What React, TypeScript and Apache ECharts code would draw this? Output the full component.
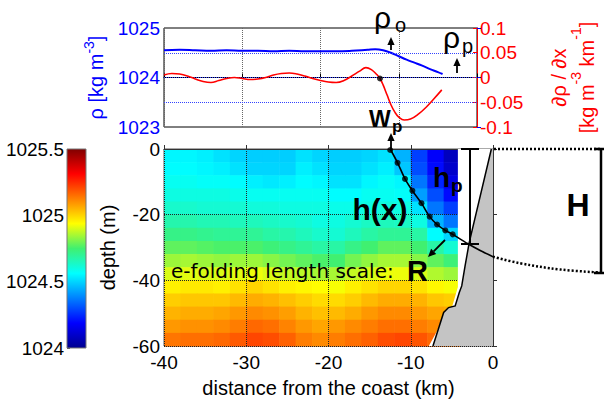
import React, { useEffect, useRef } from 'react';
import * as echarts from 'echarts';

const FONT = '"Liberation Sans", Arial, Helvetica, sans-serif';
const FONT2 = '"DejaVu Sans", Verdana, sans-serif';

// ---- top panel: cross-shore density and its gradient ----
const rhoDist = [-40, -38, -36, -34, -32, -30, -28, -26, -24, -22, -20, -18, -16, -14, -13, -12, -11, -10, -9, -8, -7, -6, -5, -4.4];
const rhoValues = [1024.55, 1024.56, 1024.55, 1024.54, 1024.55, 1024.54, 1024.54, 1024.53, 1024.54, 1024.53, 1024.53, 1024.53, 1024.54, 1024.56, 1024.57, 1024.55, 1024.5, 1024.43, 1024.36, 1024.3, 1024.24, 1024.17, 1024.11, 1024.07];
const gradDist = [-40, -39, -38, -37, -36, -35, -34, -33, -32, -31, -30, -29, -28, -27, -26, -25, -24, -23, -22, -21, -20, -19, -18, -17, -16, -15, -14.2, -13.5, -12.8, -12.4, -12, -11.5, -11, -10.5, -10, -9.3, -8.5, -7.5, -6.5, -5.5, -4.5];
const gradValues = [0.005, 0.008, 0.007, 0.003, -0.003, -0.008, -0.01, -0.006, -0.002, 0.0, -0.002, -0.004, -0.003, 0.0, 0.005, 0.008, 0.009, 0.007, 0.003, -0.002, -0.006, -0.009, -0.01, -0.006, 0.003, 0.013, 0.02, 0.016, 0.006, -0.002, -0.015, -0.035, -0.055, -0.07, -0.08, -0.086, -0.084, -0.074, -0.06, -0.043, -0.025];
const frontPoint = [-12.4, -0.002];
const rhoGuides = [1023.5, 1024, 1024.5];

// ---- bottom panel: density section ----
const distCenters = [-39, -37, -35, -33, -31, -29, -27, -25, -23, -21, -19, -17, -15, -13, -11, -9, -7, -5];
const depthCenters = [-2, -6, -10, -14, -18, -22, -26, -30, -34, -38, -42, -46, -50, -54, -58];
const densityRows = [
  [1024.55, 1024.55, 1024.54, 1024.52, 1024.50, 1024.49, 1024.49, 1024.49, 1024.52, 1024.50, 1024.49, 1024.49, 1024.50, 1024.52, 1024.45, 1024.28, 1024.18, 1024.08],
  [1024.56, 1024.56, 1024.55, 1024.54, 1024.52, 1024.50, 1024.50, 1024.50, 1024.54, 1024.52, 1024.50, 1024.50, 1024.52, 1024.54, 1024.48, 1024.30, 1024.20, 1024.10],
  [1024.58, 1024.58, 1024.57, 1024.57, 1024.56, 1024.54, 1024.53, 1024.54, 1024.56, 1024.55, 1024.52, 1024.52, 1024.55, 1024.57, 1024.55, 1024.36, 1024.24, 1024.14],
  [1024.60, 1024.60, 1024.60, 1024.60, 1024.59, 1024.58, 1024.58, 1024.58, 1024.58, 1024.58, 1024.56, 1024.56, 1024.58, 1024.58, 1024.57, 1024.42, 1024.30, 1024.20],
  [1024.63, 1024.63, 1024.62, 1024.62, 1024.62, 1024.61, 1024.61, 1024.60, 1024.60, 1024.60, 1024.59, 1024.59, 1024.60, 1024.61, 1024.60, 1024.52, 1024.36, 1024.28],
  [1024.67, 1024.67, 1024.66, 1024.66, 1024.65, 1024.65, 1024.64, 1024.63, 1024.62, 1024.60, 1024.60, 1024.62, 1024.64, 1024.65, 1024.64, 1024.60, 1024.45, 1024.36],
  [1024.72, 1024.72, 1024.71, 1024.70, 1024.70, 1024.70, 1024.68, 1024.67, 1024.65, 1024.63, 1024.62, 1024.65, 1024.68, 1024.70, 1024.70, 1024.68, 1024.56, 1024.50],
  [1024.78, 1024.78, 1024.77, 1024.76, 1024.76, 1024.76, 1024.74, 1024.72, 1024.70, 1024.68, 1024.68, 1024.72, 1024.75, 1024.78, 1024.78, 1024.75, 1024.68, 1024.62],
  [1024.84, 1024.85, 1024.84, 1024.83, 1024.84, 1024.84, 1024.82, 1024.80, 1024.78, 1024.76, 1024.75, 1024.80, 1024.83, 1024.85, 1024.85, 1024.82, 1024.78, 1024.74],
  [1024.90, 1024.91, 1024.90, 1024.90, 1024.91, 1024.92, 1024.90, 1024.88, 1024.87, 1024.85, 1024.85, 1024.88, 1024.90, 1024.92, 1024.92, 1024.90, 1024.86, 1024.84],
  [1024.96, 1024.97, 1024.97, 1024.96, 1024.98, 1025.00, 1024.98, 1024.96, 1024.95, 1024.94, 1024.93, 1024.96, 1024.98, 1025.00, 1025.00, 1024.98, 1024.95, 1024.93],
  [1025.01, 1025.02, 1025.02, 1025.02, 1025.04, 1025.06, 1025.05, 1025.03, 1025.01, 1024.99, 1024.99, 1025.01, 1025.04, 1025.06, 1025.06, 1025.05, 1025.02, 1025.01],
  [1025.05, 1025.06, 1025.06, 1025.07, 1025.09, 1025.11, 1025.10, 1025.08, 1025.05, 1025.03, 1025.04, 1025.06, 1025.09, 1025.11, 1025.11, 1025.09, 1025.07, 1025.06],
  [1025.09, 1025.10, 1025.10, 1025.11, 1025.13, 1025.16, 1025.15, 1025.12, 1025.09, 1025.07, 1025.09, 1025.11, 1025.13, 1025.15, 1025.15, 1025.13, 1025.11, 1025.09],
  [1025.14, 1025.15, 1025.15, 1025.16, 1025.18, 1025.21, 1025.20, 1025.17, 1025.13, 1025.11, 1025.13, 1025.15, 1025.17, 1025.20, 1025.21, 1025.19, 1025.16, 1025.14],
];
const cellHalfWidth = 1; // km
const cellHalfHeight = 2; // m

// plume interface h(x)
const hCurve = [[-12.5, 0], [-11.6, -4.2], [-10.7, -9.1], [-9.8, -12.7], [-8.7, -16.5], [-7.7, -20.6], [-6.8, -23.0], [-5.8, -24.8], [-4.9, -26.0], [-3.1, -28.8], [-1.5, -31.0], [0, -32.8]];
const hExtension = [[0, -32.8], [3.3, -34.8], [8.2, -36.7], [13, -37.6]];
const hDots = [[-12.5, -0.3], [-11.6, -4.2], [-10.7, -9.1], [-9.8, -12.7], [-8.7, -16.5], [-7.7, -20.6], [-6.8, -23.0], [-5.8, -24.8], [-4.9, -26.0]];
// bathymetry / data edge
const coastline = [[-0.2, 0], [-2.9, -28.6], [-3.4, -35.7], [-3.8, -41.7], [-4.1, -43.7], [-4.6, -47.8], [-5.4, -48.3], [-6.0, -49.8], [-7.3, -60]];
const fieldEdge = [[-4.27, 0], [-4.27, -42], [-4.4, -43.2], [-5.0, -48.3], [-6.0, -50.3], [-6.8, -55.4], [-7.8, -60]];

const jet = ['#000090', '#0000ff', '#0080ff', '#00ffff', '#40f070', '#ffff00', '#ff8000', '#ff0000', '#800000'];
const colorbarRange = [1024, 1025.5];

function arrow(x1: number, y1: number, x2: number, y2: number, head = 8, width = 1.8): any[] {
  const dx = x2 - x1, dy = y2 - y1;
  const len = Math.hypot(dx, dy);
  const ux = dx / len, uy = dy / len;
  const px = -uy, py = ux;
  const bx = x2 - ux * head, by = y2 - uy * head;
  const w = head * 0.45;
  return [
    { type: 'line', z: 100, shape: { x1, y1, x2: bx, y2: by }, style: { stroke: '#000', lineWidth: width } },
    { type: 'polygon', z: 100, shape: { points: [[x2, y2], [bx + px * w, by + py * w], [bx - px * w, by - py * w]] }, style: { fill: '#000' } },
  ];
}

function txt(text: string, x: number, y: number, size: number, bold = false, align = 'left', family = FONT): any {
  return {
    type: 'text', z: 100, x, y,
    style: { text, font: `${bold ? 'bold ' : ''}${size}px ${family}`, fill: '#000', align, verticalAlign: 'middle' },
  };
}

function bar(x: number, y1: number, y2: number, capL: number, capR: number, w: number): any[] {
  return [
    { type: 'line', z: 100, shape: { x1: x, y1, x2: x, y2 }, style: { stroke: '#000', lineWidth: w } },
    { type: 'line', z: 100, shape: { x1: capL, y1, x2: capR, y2: y1 }, style: { stroke: '#000', lineWidth: w } },
    { type: 'line', z: 100, shape: { x1: capL, y1: y2, x2: capR, y2 }, style: { stroke: '#000', lineWidth: w } },
  ];
}

const plain = (v: number) => String(Math.round(v * 1000) / 1000);

function supRich(color: string, lh: number) {
  return {
    n: { fontFamily: FONT, fontSize: 20, color, lineHeight: lh, verticalAlign: 'bottom' },
    s: { fontFamily: FONT, fontSize: 14, color, lineHeight: lh, verticalAlign: 'top' },
  };
}

export default function App() {
  const ref = useRef<HTMLDivElement>(null);
  useEffect(() => {
    if (!ref.current) return;
    const chart = echarts.init(ref.current, undefined, { renderer: 'svg' });
    const fieldData: number[][] = [];
    depthCenters.forEach((d, i) => distCenters.forEach((x, j) => fieldData.push([x, d, densityRows[i][j]])));
    const tickFont = { fontFamily: FONT, fontSize: 19 };
    const nameFont = { fontFamily: FONT, fontSize: 20 };

    const option: any = {
      animation: false,
      backgroundColor: '#fff',
      grid: [
        { left: 164, top: 28, width: 328, height: 99, show: true, borderColor: '#000', borderWidth: 1, backgroundColor: 'transparent' },
        { left: 164, top: 149, width: 329, height: 198, show: true, borderColor: '#555', borderWidth: 1, backgroundColor: 'transparent' },
        { left: 67, top: 149, width: 19, height: 199, show: false },
      ],
      xAxis: [
        { gridIndex: 0, type: 'value', min: -40, max: 0, interval: 10, axisLabel: { show: false },
          axisLine: { lineStyle: { color: '#000' } }, axisTick: { inside: true, length: 4, lineStyle: { color: '#000' } },
          splitLine: { show: true, lineStyle: { type: 'dotted', color: '#666' } } },
        { gridIndex: 1, type: 'value', min: -40, max: 0, interval: 10, z: 3,
          axisLabel: { ...tickFont, color: '#000', margin: 7, formatter: plain },
          axisLine: { lineStyle: { color: '#333' } }, axisTick: { inside: true, length: 4, lineStyle: { color: '#333' } },
          splitLine: { show: true, lineStyle: { type: 'dotted', color: '#222' } },
          name: 'distance from the coast (km)', nameLocation: 'middle', nameGap: 32,
          nameTextStyle: { ...nameFont, color: '#000' } },
        { gridIndex: 2, type: 'value', min: 0, max: 1, show: false },
      ],
      yAxis: [
        { gridIndex: 0, type: 'value', min: 1023, max: 1025, interval: 1, position: 'left',
          name: '{n|ρ [kg m}{s|-3}{n|]}', nameLocation: 'middle', nameGap: 58, nameRotate: 90,
          nameTextStyle: { ...nameFont, color: '#0000ff', rich: supRich('#0000ff', 24) },
          axisLine: { show: true, lineStyle: { color: '#0000ff' } },
          axisLabel: { ...tickFont, color: '#0000ff', margin: 4, formatter: plain },
          axisTick: { inside: true, length: 4, lineStyle: { color: '#0000ff' } }, splitLine: { show: false } },
        { gridIndex: 0, type: 'value', min: -0.1, max: 0.1, interval: 0.05, position: 'right',
          name: '{n|∂ρ / ∂x}\n{n|[kg m}{s|-3}{n| km}{s|-1}{n|]}', nameLocation: 'middle', nameGap: 64, nameRotate: 90,
          nameTextStyle: { ...nameFont, color: '#ff0000', rich: supRich('#ff0000', 28) },
          axisLine: { show: true, lineStyle: { color: '#ff0000' } },
          axisLabel: { ...tickFont, color: '#ff0000', margin: 3, formatter: plain },
          axisTick: { inside: true, length: 4, lineStyle: { color: '#ff0000' } }, splitLine: { show: false } },
        { gridIndex: 1, type: 'value', min: -60, max: 0, interval: 20, z: 3,
          name: 'depth (m)', nameLocation: 'middle', nameGap: 46, nameRotate: 90,
          nameTextStyle: { ...nameFont, color: '#000' },
          axisLine: { show: true, lineStyle: { color: '#333' } },
          axisLabel: { ...tickFont, color: '#000', margin: 4, formatter: plain },
          axisTick: { inside: true, length: 4, lineStyle: { color: '#333' } },
          splitLine: { show: true, lineStyle: { type: 'dotted', color: '#222' } } },
        { gridIndex: 2, type: 'value', min: colorbarRange[0], max: colorbarRange[1], interval: 0.5,
          axisLine: { show: false }, axisTick: { inside: true, length: 3, lineStyle: { color: '#555' } },
          axisLabel: { ...tickFont, color: '#000', margin: 3, formatter: plain }, splitLine: { show: false } },
      ],
      visualMap: [
        { type: 'continuous', show: false, seriesIndex: 3, dimension: 2, min: colorbarRange[0], max: colorbarRange[1], inRange: { color: jet } },
      ],
      series: [
        { name: 'rho', type: 'line', xAxisIndex: 0, yAxisIndex: 0, data: rhoDist.map((x, i) => [x, rhoValues[i]]),
          showSymbol: false, smooth: 0.4, lineStyle: { color: '#0000ff', width: 2 }, z: 4,
          markLine: { silent: true, symbol: 'none', label: { show: false },
            lineStyle: { type: 'dotted', color: '#3344ff', width: 1 },
            data: rhoGuides.map((v) => ({ yAxis: v })) } },
        { name: 'drho/dx', type: 'line', xAxisIndex: 0, yAxisIndex: 1, data: gradDist.map((x, i) => [x, gradValues[i]]),
          showSymbol: false, smooth: 0.4, lineStyle: { color: '#ff0000', width: 1.6 }, z: 5 },
        { name: 'front', type: 'scatter', xAxisIndex: 0, yAxisIndex: 1, data: [frontPoint], symbolSize: 6,
          itemStyle: { color: '#000' }, z: 6 },
        { name: 'density', type: 'custom', xAxisIndex: 1, yAxisIndex: 2, data: fieldData, z: 1,
          encode: { x: 0, y: 1 },
          renderItem: (_p: any, api: any) => {
            const x = api.value(0), y = api.value(1);
            const a = api.coord([x - cellHalfWidth, y + cellHalfHeight]);
            const b = api.coord([x + cellHalfWidth, y - cellHalfHeight]);
            return { type: 'rect', shape: { x: a[0], y: a[1], width: b[0] - a[0] + 0.6, height: b[1] - a[1] + 0.6 },
              style: { fill: api.visual('color') } };
          } },
        { name: 'coast', type: 'custom', xAxisIndex: 1, yAxisIndex: 2, data: [[0, 0]], z: 4, silent: true,
          renderItem: (_p: any, api: any) => {
            const mask = [...fieldEdge, [0, -60], [0, 0]].map((p) => api.coord(p));
            const land = [[0, 0], ...coastline, [0, -60]].map((p) => api.coord(p));
            const shore = coastline.map((p) => api.coord(p));
            return { type: 'group', children: [
              { type: 'polygon', shape: { points: mask }, style: { fill: '#ffffff' } },
              { type: 'polygon', shape: { points: land }, style: { fill: '#c4c4c4' } },
              { type: 'polyline', shape: { points: shore }, style: { stroke: '#000', lineWidth: 1.5, fill: null } },
            ] };
          } },
        { name: 'h(x)', type: 'line', xAxisIndex: 1, yAxisIndex: 2, data: hCurve, clip: false, showSymbol: false,
          smooth: 0.3, lineStyle: { color: '#000', width: 1.6 }, z: 6 },
        { name: 'h extension', type: 'custom', xAxisIndex: 1, yAxisIndex: 2, data: [[0, 0]], z: 6, clip: false, silent: true,
          renderItem: (_p: any, api: any) => ({
            type: 'polyline', shape: { points: hExtension.map((p) => api.coord(p)), smooth: 0.4 },
            style: { stroke: '#000', lineWidth: 2.5, lineDash: [2, 2], fill: null },
          }) },
        { name: 'h dots', type: 'scatter', xAxisIndex: 1, yAxisIndex: 2, data: hDots, symbolSize: 6,
          itemStyle: { color: '#000' }, z: 7 },
        { name: 'colorbar', type: 'custom', xAxisIndex: 2, yAxisIndex: 3, data: [colorbarRange], silent: true,
          renderItem: (_p: any, api: any) => {
            const a = api.coord([0, colorbarRange[1]]);
            const b = api.coord([1, colorbarRange[0]]);
            return { type: 'rect', shape: { x: a[0], y: a[1], width: b[0] - a[0], height: b[1] - a[1] },
              style: { stroke: '#777', lineWidth: 1,
                fill: new echarts.graphic.LinearGradient(0, 1, 0, 0, jet.map((c, i) => ({ offset: i / (jet.length - 1), color: c }))) } };
          } },
      ],
      graphic: [
        txt('ρ', 374, 17, 30), txt('o', 395, 25, 20),
        ...arrow(391, 50, 391, 37),
        txt('ρ', 443, 37, 30), txt('p', 462, 46, 20),
        ...arrow(457, 73, 457, 58),
        txt('W', 369, 119, 23, true), txt('p', 392, 126, 17, true),
        ...arrow(391, 151, 391, 133),
        txt('h(x)', 380, 209, 30, true, 'center'),
        txt('h', 433, 177, 28, true), txt('p', 451, 185, 19, true),
        txt('H', 578, 205, 32, true, 'center'),
        txt('e-folding length scale:', 171, 271, 20, false, 'left', FONT2),
        txt('R', 407, 271, 29, true),
        ...arrow(445, 240, 428, 257),
        ...bar(470, 149, 244, 461, 479, 2),
        { type: 'line', z: 100, shape: { x1: 494, y1: 149, x2: 600, y2: 149 }, style: { stroke: '#000', lineWidth: 2.5, lineDash: [2, 2] } },
        ...bar(601, 149, 273, 594, 604, 2.5),
      ],
    };
    chart.setOption(option);
    return () => chart.dispose();
  }, []);
  return <div ref={ref} style={{ position: 'fixed', left: 0, top: 0, width: 605, height: 399 }} />;
}
